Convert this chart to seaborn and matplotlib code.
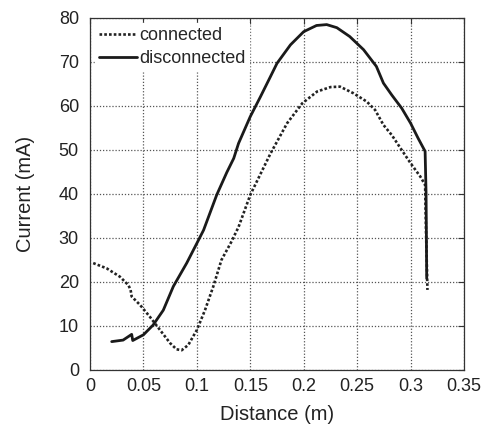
import matplotlib
matplotlib.use("Agg")
import matplotlib.pyplot as plt
import seaborn as sns
import pandas as pd

# Measured current along the probe path, distance in metres, current in mA
dist_disconnected = [0.0203, 0.031, 0.039, 0.0400, 0.050, 0.059, 0.0686, 0.078,
                     0.0905, 0.100, 0.1063, 0.1186, 0.128, 0.1345, 0.139, 0.150,
                     0.1595, 0.1685, 0.175, 0.1876, 0.200, 0.212, 0.2215, 0.231,
                     0.243, 0.256, 0.268, 0.2746, 0.2824, 0.2917, 0.300, 0.307,
                     0.3136, 0.3145, 0.3151]
curr_disconnected = [6.45, 6.8, 8.1, 6.7, 8.0, 10.2, 13.6, 19.0,
                     24.3, 28.8, 31.8, 39.8, 44.9, 48.1, 51.5, 57.6,
                     62.1, 66.5, 69.7, 73.9, 76.9, 78.3, 78.5, 77.8,
                     75.8, 72.8, 69.0, 65.2, 62.5, 59.5, 56.1, 52.7,
                     49.7, 40.2, 20.8]

dist_connected = [0.003, 0.0156, 0.028, 0.0359, 0.038, 0.039, 0.0468, 0.056,
                  0.0655, 0.075, 0.081, 0.0858, 0.092, 0.100, 0.1076, 0.1154,
                  0.123, 0.132, 0.139, 0.150, 0.1689, 0.1845, 0.1986, 0.2126,
                  0.2251, 0.234, 0.2465, 0.259, 0.2668, 0.2746, 0.2824,
                  0.2917, 0.300, 0.309, 0.3136, 0.3145, 0.3158]
curr_connected = [24.3, 23.1, 21.2, 19.3, 18.2, 16.7, 14.8, 12.1,
                  9.1, 6.1, 4.7, 4.5, 5.7, 9.1, 13.6, 19.0,
                  25.0, 29.0, 32.5, 39.8, 49.2, 56.1, 60.6, 63.3,
                  64.3, 64.4, 62.9, 61.0, 59.1, 55.7, 53.4,
                  50.0, 47.0, 44.0, 42.1, 31.0, 18.2]

x_ticks = [0, 0.05, 0.1, 0.15, 0.2, 0.25, 0.3, 0.35]
x_ticklabels = ["0", "0.05", "0.1", "0.15", "0.2", "0.25", "0.3", "0.35"]
y_ticks = [0, 10, 20, 30, 40, 50, 60, 70, 80]

df_conn = pd.DataFrame({"Distance": dist_connected, "Current": curr_connected})
df_disc = pd.DataFrame({"Distance": dist_disconnected, "Current": curr_disconnected})

sns.set_style("white")
plt.rcParams["font.family"] = ["Liberation Sans", "DejaVu Sans"]

fig = plt.figure(figsize=(4.82, 4.26), dpi=100)
ax = fig.add_axes([90 / 482, 1 - 370 / 426, 374 / 482, 352 / 426])

sns.lineplot(data=df_conn, x="Distance", y="Current", ax=ax, color="#222222",
             linewidth=1.9, linestyle=(0, (1.0, 0.8)), sort=False,
             estimator=None, label="connected")
sns.lineplot(data=df_disc, x="Distance", y="Current", ax=ax, color="#1a1a1a",
             linewidth=2.0, sort=False, estimator=None, label="disconnected")

for ln in ax.get_lines():
    ln.set_dash_capstyle("butt")
    ln.set_solid_joinstyle("round")

ax.set_xlim(0, 0.35)
ax.set_ylim(0, 80)
ax.set_xticks(x_ticks)
ax.set_xticklabels(x_ticklabels)
ax.set_yticks(y_ticks)

ax.grid(True, color="#555555", linestyle=(0, (1, 1.5)), linewidth=0.9)
ax.set_axisbelow(True)

for sp in ax.spines.values():
    sp.set_visible(True)
    sp.set_color("#333333")
    sp.set_linewidth(0.9)

ax.tick_params(axis="both", which="major", direction="in", length=4,
               width=0.8, color="#333333", top=True, right=True,
               labelsize=13, labelcolor="#222222")
ax.tick_params(axis="x", pad=6)
ax.tick_params(axis="y", pad=8)

ax.set_xlabel("Distance (m)", fontsize=14.5, color="#222222", labelpad=7)
ax.set_ylabel("Current (mA)", fontsize=14.5, color="#222222", labelpad=17)

leg = ax.legend(loc="upper left", frameon=True, fontsize=13, handlelength=2.1,
                handletextpad=0.1, borderaxespad=0.3, borderpad=0.2,
                labelspacing=0.35)
leg.get_frame().set_edgecolor("white")
leg.get_frame().set_facecolor("white")
leg.get_frame().set_alpha(1.0)
leg.get_frame().set_boxstyle("square", pad=0.0)

fig.savefig("out.png", dpi=100)
